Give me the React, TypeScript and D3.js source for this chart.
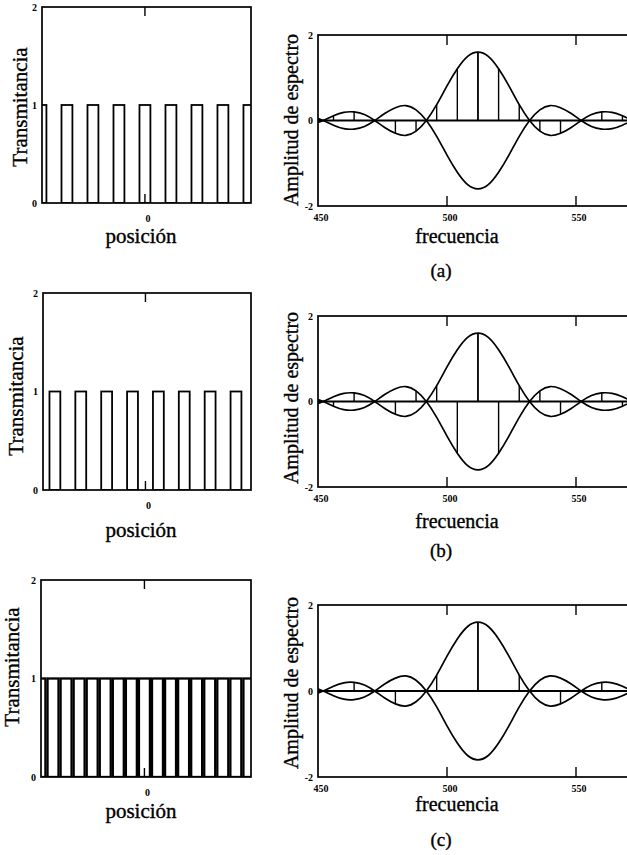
import React from 'react';
import * as d3 from 'd3';

// slit centres of each grating, in position units (1 unit = period of grating a)
const slitsA = [-4, -3, -2, -1, 0, 1, 2, 3, 4];
const slitsB = [-3.5, -2.5, -1.5, -0.5, 0.5, 1.5, 2.5, 3.5];
const slitsC = [-4, -3.5, -3, -2.5, -2, -1.5, -1, -0.5, 0, 0.5, 1, 1.5, 2, 2.5, 3, 3.5, 4];
const slitWidth = 0.42;
const posTicks = [0];
const transTicks = [0, 1, 2];

// spectrum envelope (signed amplitude), read every 4 frequency units
const envFreq = [448, 452, 456, 460, 464, 468, 472, 476, 480, 484, 488, 492, 496, 500, 504, 508, 512,
  516, 520, 524, 528, 532, 536, 540, 544, 548, 552, 556, 560, 564, 568, 572, 576];
const envAmp = [-0.09, 0, 0.11, 0.19, 0.2, 0.14, 0, -0.17, -0.3, -0.35, -0.25, 0, 0.37, 0.81, 1.21, 1.5, 1.6,
  1.5, 1.21, 0.81, 0.37, 0, -0.25, -0.35, -0.3, -0.17, 0, 0.14, 0.2, 0.19, 0.11, 0, -0.09];

// sampled spectrum lines
const stemFreqAB = [456, 464, 472, 480, 488, 496, 504, 512, 520, 528, 536, 544, 552, 560, 568];
const stemAmpA = [0.11, 0.2, 0, -0.3, -0.25, 0.37, 1.21, 1.6, 1.21, 0.37, -0.25, -0.3, 0, 0.2, 0.11];
const stemAmpB = [-0.11, 0.2, 0, -0.3, 0.25, 0.37, -1.21, 1.6, -1.21, 0.37, 0.25, -0.3, 0, 0.2, -0.11];
const stemFreqC = [464, 480, 496, 512, 528, 544, 560];
const stemAmpC = [0.2, -0.3, 0.37, 1.6, 0.37, -0.3, 0.2];
const freqTicks = [450, 500, 550];
const ampTicks = [2, 0, -2];

const serif = '"Liberation Serif", "Times New Roman", serif';

const rows = [
  { key: 'a', slits: slitsA, stemF: stemFreqAB, stemA: stemAmpA, barStroke: 1.8,
    L: { y0: 7, y1: 203, x0: 42, x1: 251, transX: 27, transCy: 107, posY: 243 },
    R: { y0: 35, y1: 206, ampCy: 120, freqY: 243 }, label: '(a)', labelY: 277 },
  { key: 'b', slits: slitsB, stemF: stemFreqAB, stemA: stemAmpB, barStroke: 1.8,
    L: { y0: 293, y1: 490, x0: 43, x1: 251, transX: 23, transCy: 396, posY: 537 },
    R: { y0: 316, y1: 487, ampCy: 398, freqY: 528 }, label: '(b)', labelY: 557 },
  { key: 'c', slits: slitsC, stemF: stemFreqC, stemA: stemAmpC, barStroke: 2.3,
    L: { y0: 580, y1: 777, x0: 41, x1: 251, transX: 19, transCy: 667, posY: 818 },
    R: { y0: 605, y1: 777, ampCy: 683, freqY: 811 }, label: '(c)', labelY: 846 },
];

const textInk = { stroke: '#000', strokeWidth: 0.35 };

function LeftPanel({ row }: any) {
  const { L, slits, key } = row;
  const x = d3.scaleLinear().domain([-3.96, 4.08]).range([L.x0, L.x1]);
  const y = d3.scaleLinear().domain([0, 2]).range([L.y1, L.y0]);
  return (
    <g>
      <clipPath id={'clipL' + key}>
        <rect x={L.x0} y={L.y0} width={L.x1 - L.x0} height={L.y1 - L.y0} />
      </clipPath>
      <g clipPath={`url(#clipL${key})`}>
        {slits.map((c: number, i: number) => (
          <rect key={i} x={x(c - slitWidth / 2)} y={y(1)} width={x(c + slitWidth / 2) - x(c - slitWidth / 2)}
            height={y(0) - y(1)} fill="none" stroke="#000" strokeWidth={row.barStroke} />
        ))}
      </g>
      <rect x={L.x0} y={L.y0} width={L.x1 - L.x0} height={L.y1 - L.y0} fill="none" stroke="#000" strokeWidth={1.7} />
      {posTicks.map(t => (
        <g key={t}>
          <line x1={x(t)} x2={x(t)} y1={L.y0} y2={L.y0 + 9} stroke="#000" strokeWidth={1.4} />
          <line x1={x(t)} x2={x(t)} y1={L.y1} y2={L.y1 - 9} stroke="#000" strokeWidth={1.4} />
          <text x={x(t) + 3} y={L.y1 + 19} fontSize={10} fontWeight="bold" textAnchor="middle" fontFamily={serif}>{t}</text>
        </g>
      ))}
      {transTicks.map(t => (
        <text key={t} x={L.x0 - 5} y={y(t) + 3.5} fontSize={10} fontWeight="bold" textAnchor="end" fontFamily={serif}>{t}</text>
      ))}
      <text transform={`translate(${L.transX},${L.transCy}) rotate(-90)`} textAnchor="middle" fontSize={21} fontFamily={serif} {...textInk}>Transmitancia</text>
      <text x={141} y={L.posY} textAnchor="middle" fontSize={21} fontFamily={serif} {...textInk}>posición</text>
    </g>
  );
}

function RightPanel({ row }: any) {
  const { R, stemF, stemA, key } = row;
  const x0 = 318;
  const x = d3.scaleLinear().domain([450, 574]).range([x0, x0 + 124 * 2.58]);
  const y = d3.scaleLinear().domain([-2, 2]).range([R.y1, R.y0]);
  const upper = d3.line<number>().x((_, i) => x(envFreq[i])).y(d => y(d)).curve(d3.curveNatural);
  const lower = d3.line<number>().x((_, i) => x(envFreq[i])).y(d => y(-d)).curve(d3.curveNatural);
  const [xa, xb] = x.range();
  return (
    <g>
      <clipPath id={'clipR' + key}>
        <rect x={xa} y={R.y0} width={xb - xa} height={R.y1 - R.y0} />
      </clipPath>
      <g clipPath={`url(#clipR${key})`}>
        <line x1={xa} x2={xb} y1={y(0)} y2={y(0)} stroke="#000" strokeWidth={2} />
        {stemF.map((f: number, i: number) => (
          <line key={i} x1={x(f)} x2={x(f)} y1={y(0)} y2={y(stemA[i])} stroke="#000" strokeWidth={f === 512 ? 1.8 : 1.4} />
        ))}
        <path d={upper(envAmp) || ''} fill="none" stroke="#000" strokeWidth={1.7} />
        <path d={lower(envAmp) || ''} fill="none" stroke="#000" strokeWidth={1.7} />
      </g>
      <rect x={xa} y={R.y0} width={xb - xa} height={R.y1 - R.y0} fill="none" stroke="#000" strokeWidth={1.7} />
      {freqTicks.map(t => (
        <g key={t}>
          {t !== 450 && <line x1={x(t)} x2={x(t)} y1={R.y0} y2={R.y0 + 10} stroke="#000" strokeWidth={1.4} />}
          {t !== 450 && <line x1={x(t)} x2={x(t)} y1={R.y1} y2={R.y1 - 10} stroke="#000" strokeWidth={1.4} />}
          <text x={x(t) + 3} y={R.y1 + 15} fontSize={10} fontWeight="bold" textAnchor="middle" fontFamily={serif}>{t}</text>
        </g>
      ))}
      {ampTicks.map(t => (
        <text key={t} x={xa - 5} y={y(t) + 3.5} fontSize={10} fontWeight="bold" textAnchor="end" fontFamily={serif}>{t}</text>
      ))}
      <text transform={`translate(298,${R.ampCy}) rotate(-90)`} textAnchor="middle" fontSize={20} fontFamily={serif} {...textInk}>Amplitud de espectro</text>
      <text x={457} y={R.freqY} textAnchor="middle" fontSize={20} fontFamily={serif} {...textInk}>frecuencia</text>
    </g>
  );
}

export default function App() {
  return (
    <div style={{ position: 'absolute', left: 0, top: 0, background: '#fff' }}>
      <svg width={627} height={855} style={{ display: 'block' }}>
        <rect width={627} height={855} fill="#fff" />
        {rows.map(r => (
          <g key={r.key}>
            <LeftPanel row={r} />
            <RightPanel row={r} />
            <text x={441} y={r.labelY} textAnchor="middle" fontSize={19} fontFamily={serif} {...textInk}>{r.label}</text>
          </g>
        ))}
      </svg>
    </div>
  );
}
